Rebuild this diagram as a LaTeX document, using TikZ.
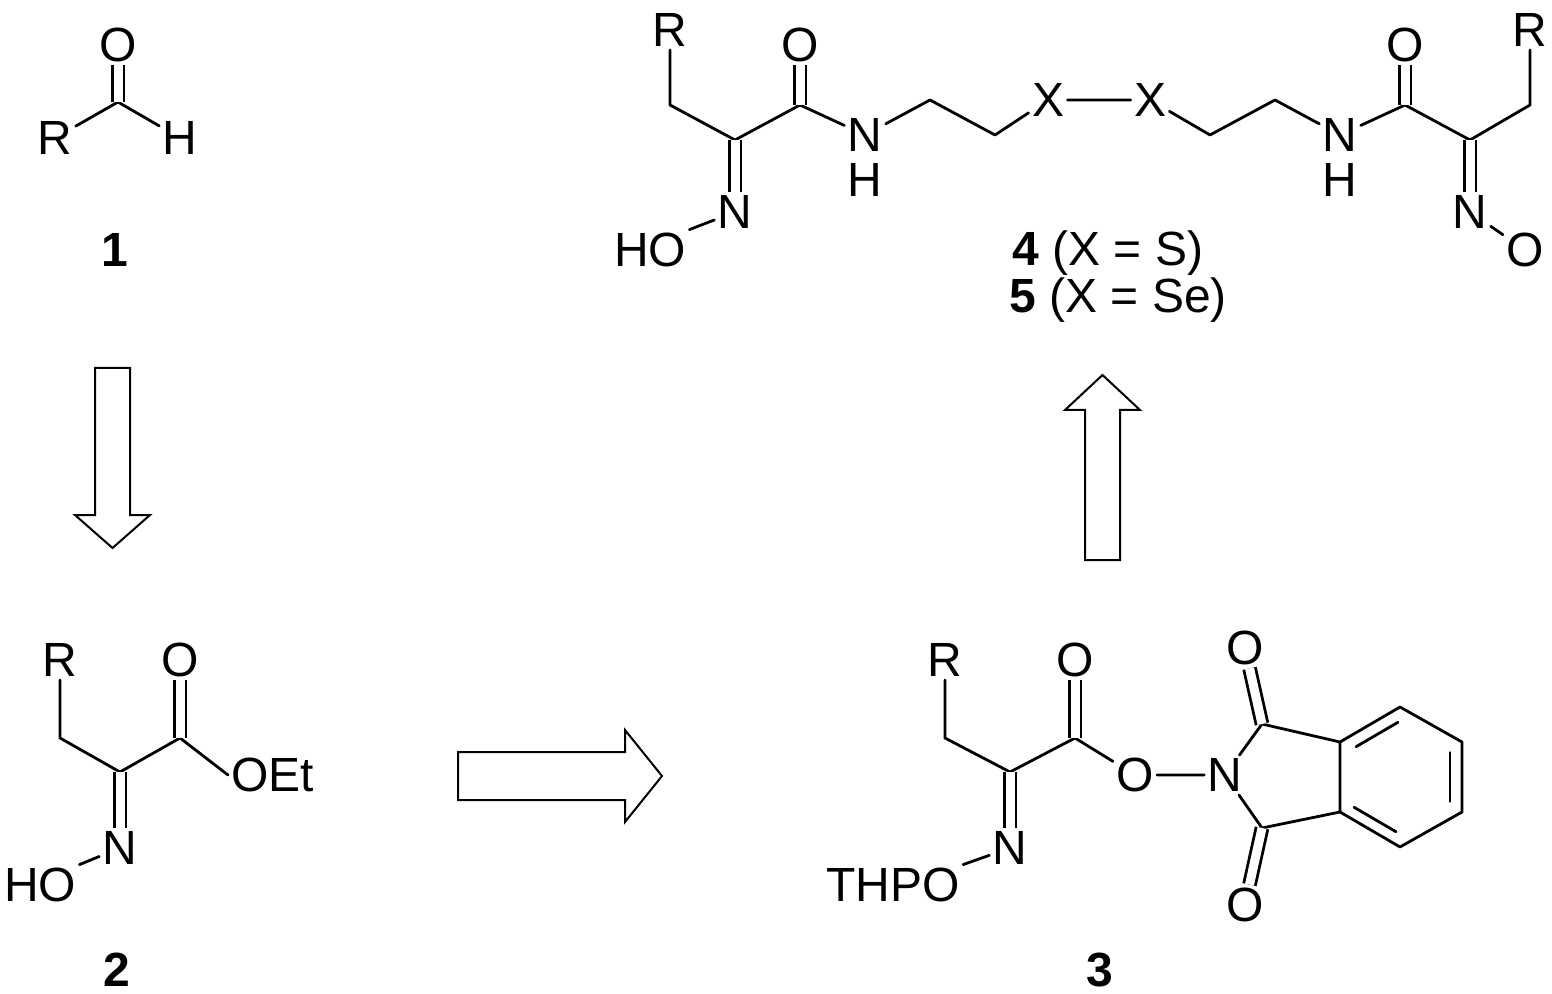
\documentclass[tikz,border=0pt]{standalone}
\usepackage{fontspec}
\setmainfont{Liberation Sans}
\usetikzlibrary{calc}
\begin{document}
\begin{tikzpicture}[x=0.5pt,y=-0.5pt,
 atom/.style={font=\fontsize{24}{28}\selectfont,inner sep=1.5pt},
 lab/.style={font=\fontsize{24}{28}\selectfont},
 bond/.style={line width=1.4pt,line cap=round},
 dbl/.style={line width=1.4pt,double,double distance=4.5pt},
 harrow/.style={line width=1pt,fill=white}]
\useasboundingbox (0,0) rectangle (1552,994);
% ---- 1
\node[atom] (o1) at (118,45) {O};
\node[atom] (r1) at (55,138) {R};
\node[atom] (h1) at (180,138) {H};
\coordinate (c1) at (118,102);
\draw[bond] (r1) -- (c1) -- (h1);
\draw[dbl] (c1) -- (o1);
\node[lab] (l1) at (115,250) {\textbf{1}};
% ---- down arrow
\draw[harrow] (95,368) -- (130,368) -- (130,515) -- (150,515) -- (112.5,548) -- (75,515) -- (95,515) -- cycle;
% ---- 2
\node[atom] (r2) at (60,660) {R};
\coordinate (a2) at (60,738);
\coordinate (b2) at (120,772);
\coordinate (c2) at (180,738);
\node[atom] (o2) at (180,660) {O};
\node[atom,anchor=west] (oet) at (228,775) {OEt};
\node[atom] (n2) at (120,848) {N};
\node[atom] (ho2) at (40,885) {HO};
\draw[bond] (r2) -- (a2) -- (b2) -- (c2) -- (oet.west);
\draw[dbl] (c2) -- (o2);
\draw[dbl] (b2) -- (n2);
\draw[bond] (n2) -- (ho2.north east);
\node[lab] (l2) at (117,970) {\textbf{2}};
% ---- right arrow
\draw[harrow] (458,752) -- (625,752) -- (625,730) -- (662,776) -- (625,822) -- (625,800) -- (458,800) -- cycle;
% ---- 3
\node[atom] (r3) at (945,660) {R};
\coordinate (a3) at (945,738);
\coordinate (b3) at (1010,772);
\coordinate (c3) at (1075,738);
\node[atom] (o3) at (1075,660) {O};
\node[atom] (oe3) at (1135,775) {O};
\node[atom] (ni) at (1225,775) {N};
\node[atom] (n3) at (1010,848) {N};
\node[atom] (thpo) at (893,885) {THPO};
\draw[bond] (r3) -- (a3) -- (b3) -- (c3) -- (oe3) -- (ni);
\draw[dbl] (c3) -- (o3);
\draw[dbl] (b3) -- (n3);
\draw[bond] (n3) -- (thpo.north east);
\coordinate (ca) at (1262,724);
\coordinate (cb) at (1262,828);
\coordinate (k1) at (1340,742);
\coordinate (k2) at (1340,812);
\coordinate (k3) at (1400,847);
\coordinate (k4) at (1462,812);
\coordinate (k5) at (1462,742);
\coordinate (k6) at (1400,707);
\node[atom] (oa) at (1245,648) {O};
\node[atom] (ob) at (1245,905) {O};
\draw[bond,line join=round] (ni) -- (ca) -- (k1) -- (k2) -- (cb) -- (ni);
\draw[bond,line join=round] (k1) -- (k6) -- (k5) -- (k4) -- (k3) -- (k2);
\draw[dbl] (ca) -- (oa);
\draw[dbl] (cb) -- (ob);
\draw[bond] ($(k1)!0.15!(k6)+(7,10)$) -- ($(k1)!0.85!(k6)+(7,10)$);
\draw[bond] ($(k5)!0.15!(k4)+(-12,0)$) -- ($(k5)!0.85!(k4)+(-12,0)$);
\draw[bond] ($(k3)!0.15!(k2)+(5,-10)$) -- ($(k3)!0.85!(k2)+(5,-10)$);
\node[lab] (l3) at (1100,970) {\textbf{3}};
% ---- up arrow
\draw[harrow] (1085,560) -- (1120,560) -- (1120,410) -- (1140,410) -- (1102.5,375) -- (1065,410) -- (1085,410) -- cycle;
% ---- 4/5
\node[atom] (r4) at (670,30) {R};
\coordinate (a4) at (670,105);
\coordinate (b4) at (735,140);
\coordinate (c4) at (800,105);
\node[atom] (o4) at (800,45) {O};
\node[atom] (n4) at (735,212) {N};
\node[atom] (ho4) at (650,250) {HO};
\node[atom] (nh1) at (865,135) {N};
\node[atom] (hh1) at (865,180) {H};
\coordinate (d1) at (930,100);
\coordinate (d2) at (995,135);
\node[atom] (x1) at (1048,100) {X};
\node[atom] (x2) at (1150,100) {X};
\coordinate (d3) at (1210,135);
\coordinate (d4) at (1275,100);
\node[atom] (nh2) at (1340,135) {N};
\node[atom] (hh2) at (1340,180) {H};
\coordinate (c5) at (1405,105);
\node[atom] (o5) at (1405,45) {O};
\coordinate (b5) at (1470,140);
\coordinate (a5) at (1530,105);
\node[atom] (r5) at (1530,30) {R};
\node[atom] (n5) at (1470,212) {N};
\node[atom] (o6) at (1525,250) {O};
\draw[bond,line join=round] (r4) -- (a4) -- (b4) -- (c4) -- (nh1) -- (d1) -- (d2) -- (x1) -- (x2) -- (d3) -- (d4) -- (nh2) -- (c5) -- (b5) -- (a5) -- (r5);
\draw[dbl] (c4) -- (o4);
\draw[dbl] (b4) -- (n4);
\draw[bond] (n4) -- (ho4.north east);
\draw[dbl] (c5) -- (o5);
\draw[dbl] (b5) -- (n5);
\draw[bond] (n5) -- (o6);
\node[lab] (l4) at (1108,253) {\textbf{4} (X = S)};
\node[lab] (l5) at (1118,300) {\textbf{5} (X = Se)};
\end{tikzpicture}
\end{document}
